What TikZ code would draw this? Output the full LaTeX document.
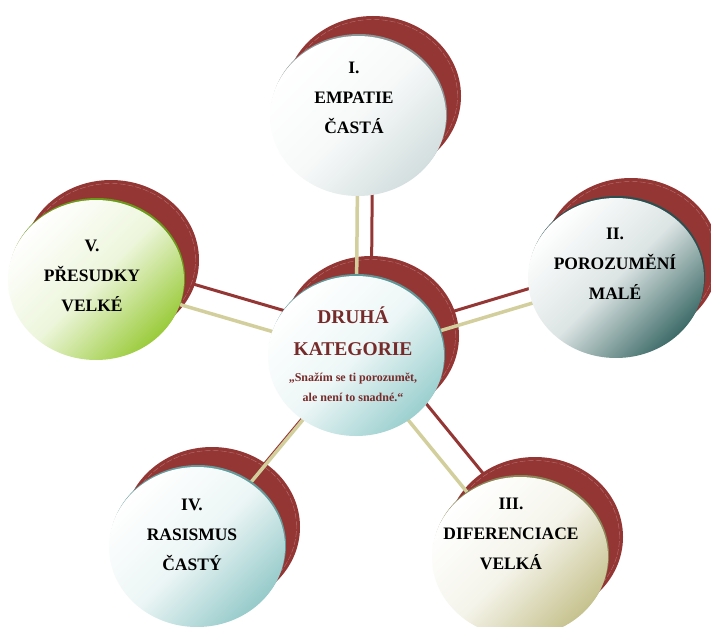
\documentclass[tikz,border=0pt]{standalone}
\usepackage{fontspec}
\setmainfont{Liberation Serif}
\usetikzlibrary{calc}

\definecolor{disc}{HTML}{943634}
\definecolor{beige}{HTML}{D3CF9C}
\definecolor{titlered}{HTML}{772A2A}
% face gradients (end colour) and rim colours
\definecolor{faceI}{HTML}{D3DEDE}
\definecolor{rimI}{HTML}{8A9595}
\definecolor{faceII}{HTML}{3D6B68}
\definecolor{rimII}{HTML}{2C4F4F}
\definecolor{faceIII}{HTML}{C6C28E}
\definecolor{rimIII}{HTML}{8A8658}
\definecolor{faceIV}{HTML}{96CACA}
\definecolor{rimIV}{HTML}{639C9C}
\definecolor{faceV}{HTML}{9ACB3A}
\definecolor{rimV}{HTML}{6A9A1A}
\definecolor{faceC}{HTML}{9BCFCF}
\definecolor{rimC}{HTML}{5D9797}

\begin{document}
\begin{tikzpicture}[x=1pt,y=-1pt,
  redlink/.style={draw=disc, line width=3pt},
  beigelink/.style={draw=beige, line width=3.5pt},
  backdisc/.style={fill=disc, draw=none},
  sheen/.style={draw=disc!70!white, line width=0.4pt, dash pattern=on 6pt off 2pt},
  face/.style={top color=white, bottom color=#1, middle color=#1!18!white, shading angle=45},
  lbl/.style={font=\fontsize{17.5}{30}\selectfont\bfseries, align=center, text=black, inner sep=0pt},
  ctitle/.style={font=\fontsize{19.5}{32}\selectfont\bfseries, align=center, text=titlered, inner sep=0pt},
  cquote/.style={font=\fontsize{12}{20}\selectfont\bfseries, align=center, text=titlered, inner sep=0pt},
]
\useasboundingbox (0,0) rectangle (711,626);
\clip (0,0) rectangle (711,626);
\fill[white] (0,0) rectangle (711,626);

\def\rx{88pt}
\def\ry{80pt}

% face centres
\coordinate (cC)   at (356,356);
\coordinate (cI)   at (358,116);
\coordinate (cII)  at (616,278);
\coordinate (cIII) at (520,557);
\coordinate (cIV)  at (197,547);
\coordinate (cV)   at (96,280);
% back discs sit up and to the right of each face
\foreach \n in {C,I,II,III,IV,V}
  \coordinate (r\n) at ($(c\n)+(15,-20)$);

% red spokes between the back discs
\foreach \n in {I,II,III,IV,V}
  \draw[redlink] (rC) -- (r\n);

% back discs with their faint dashed sheen
\foreach \n in {C,I,II,III,IV,V}{
  \fill[backdisc] (r\n) ellipse [x radius=\rx, y radius=\ry];
  \draw[sheen] (r\n) ellipse [x radius=\rx-3.5pt, y radius=\ry-3.5pt];
}

% beige spokes between the faces
\foreach \n in {I,II,III,IV,V}
  \draw[beigelink] (cC) -- (c\n);

% coloured rims and shaded faces
\foreach \n in {C,I,II,III,IV,V}{
  \fill[rim\n] ($(c\n)+(1,-2)$) ellipse [x radius=\rx, y radius=\ry];
  \shade[face=face\n] (c\n) ellipse [x radius=\rx, y radius=\ry];
}

% labels
\node[lbl] (tI)   at (354,98)  {I.\\EMPATIE\\ČASTÁ};
\node[lbl] (tII)  at (615,264) {II.\\POROZUMĚNÍ\\MALÉ};
\node[lbl] (tIII) at (511,534) {III.\\DIFERENCIACE\\VELKÁ};
\node[lbl] (tIV)  at (192,535) {IV.\\RASISMUS\\ČASTÝ};
\node[lbl] (tV)   at (92,276)  {V.\\PŘESUDKY\\VELKÉ};
\node[ctitle] (tC)  at (353,331) {DRUHÁ\\KATEGORIE};
\node[cquote] (tCq) at (353,387) {„Snažím se ti porozumět,\\ale není to snadné.“};
\end{tikzpicture}
\end{document}
